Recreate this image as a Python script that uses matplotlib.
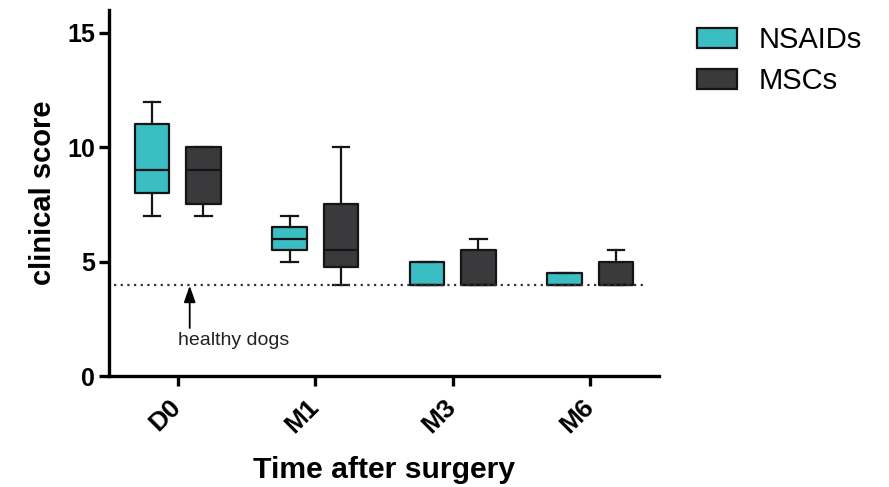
import matplotlib
matplotlib.use("Agg")
import matplotlib.pyplot as plt
from matplotlib.patches import Patch
from matplotlib.transforms import ScaledTranslation

plt.rcParams['font.family'] = ['Liberation Sans', 'DejaVu Sans']

categories = ["D0", "M1", "M3", "M6"]
series = ["NSAIDs", "MSCs"]
colors = ["#3bbdc4", "#3a3a3d"]

# five-number summaries
nsaids_whislo = [7, 5, 4, 4]
nsaids_q1 = [8, 5.5, 4, 4]
nsaids_med = [9, 6, 4, 4]
nsaids_q3 = [11, 6.5, 5, 4.5]
nsaids_whishi = [12, 7, 5, 4.5]

mscs_whislo = [7, 4, 4, 4]
mscs_q1 = [7.5, 4.75, 4, 4]
mscs_med = [9, 5.5, 4, 4]
mscs_q3 = [10, 7.5, 5.5, 5]
mscs_whishi = [10, 10, 6, 5.5]

healthy_level = 4
yticks = [0, 5, 10, 15]


def stats(lo, q1, med, q3, hi):
    return [dict(whislo=a, q1=b, med=c, q3=d, whishi=e, fliers=[])
            for a, b, c, d, e in zip(lo, q1, med, q3, hi)]


groups = [
    stats(nsaids_whislo, nsaids_q1, nsaids_med, nsaids_q3, nsaids_whishi),
    stats(mscs_whislo, mscs_q1, mscs_med, mscs_q3, mscs_whishi),
]

fig = plt.figure(figsize=(8.89, 4.87), dpi=100)
ax = fig.add_axes([0.1226, 0.2279, 0.6187, 0.7515])

offsets = [-0.187, 0.187]
width = 0.252
base = list(range(len(categories)))
lw = 1.6
for s, (st, off, col) in enumerate(zip(groups, offsets, colors)):
    pos = [b + off for b in base]
    ax.bxp(st, positions=pos, widths=width, patch_artist=True,
           showfliers=False, capwidths=0.118,
           boxprops=dict(facecolor=col, edgecolor="#151515", linewidth=lw,
                         joinstyle="round"),
           medianprops=dict(color="#151515", linewidth=lw),
           whiskerprops=dict(color="#151515", linewidth=lw),
           capprops=dict(color="#151515", linewidth=lw),
           manage_ticks=False)

ax.plot([-0.46, 3.38], [healthy_level, healthy_level], linestyle=(0, (1, 2.0)),
        color="#333333", linewidth=1.6, zorder=5)

ax.annotate("", xy=(0.087, healthy_level - 0.05), xytext=(0.087, 2.1),
            arrowprops=dict(arrowstyle="-|>,head_width=0.35,head_length=1.0",
                            color="black", linewidth=1.3, shrinkA=0, shrinkB=0))
ax.text(0.005, 1.36, "healthy dogs", fontsize=14, ha="left", va="baseline",
        color="#222222")

ax.set_xlim(-0.5, 3.5)
ax.set_ylim(0, 16)
ax.set_yticks(yticks)
ax.set_yticklabels([str(v) for v in yticks], fontsize=18, fontweight="bold")
ax.tick_params(axis="both", direction="out", length=7, width=2.4, pad=3)
ax.tick_params(axis="x", pad=4)
ax.set_xticks(base)
ax.set_xticklabels(categories, rotation=45, ha="right", rotation_mode="anchor",
                   fontsize=19, fontweight="bold")
shift = ScaledTranslation(-9 / 100, -3 / 100, fig.dpi_scale_trans)
for lab in ax.get_xticklabels():
    lab.set_transform(lab.get_transform() + shift)

for side in ["top", "right"]:
    ax.spines[side].set_visible(False)
for side in ["left", "bottom"]:
    ax.spines[side].set_linewidth(2.4)

ax.set_ylabel("clinical score", fontsize=21, fontweight="bold")
ax.yaxis.set_label_coords(-0.095, 0.5)
ax.set_xlabel("Time after surgery", fontsize=21.7, fontweight="bold")
ax.xaxis.set_label_coords(0.5, -0.218)

handles = [Patch(facecolor=c, edgecolor="#151515", linewidth=lw) for c in colors]
fig.legend(handles, series, loc="upper left", bbox_to_anchor=(0.754, 1.0),
           frameon=False, fontsize=21, handlelength=1.37, handleheight=0.65,
           handletextpad=0.75, labelspacing=0.45)

fig.savefig("out.png", dpi=100)
